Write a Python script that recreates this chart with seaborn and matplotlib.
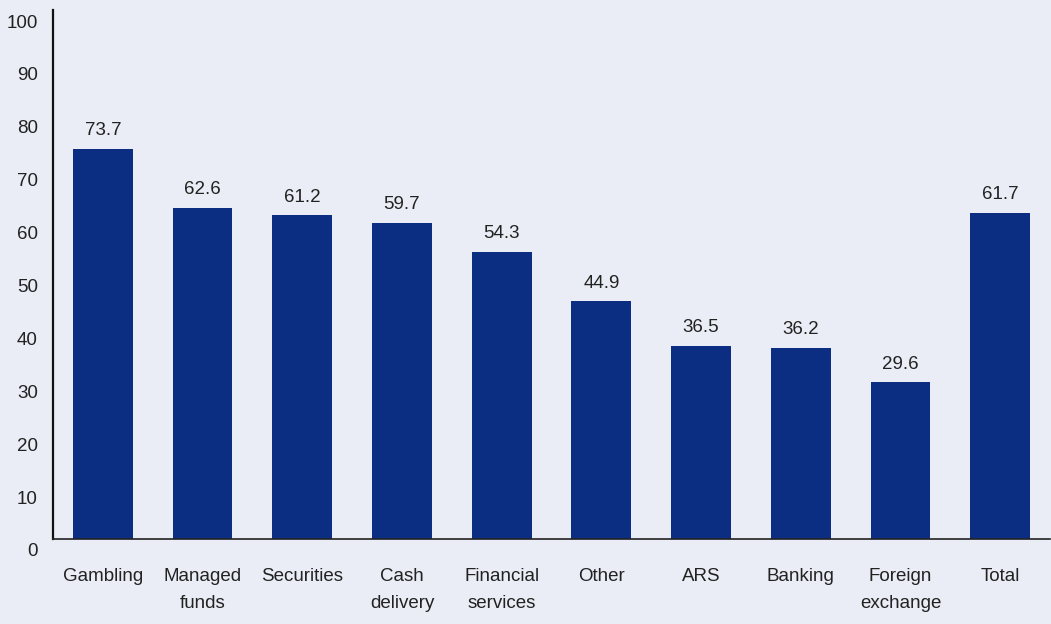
import matplotlib
matplotlib.use("Agg")
import matplotlib.pyplot as plt
import matplotlib.transforms as mtransforms
import seaborn as sns
import pandas as pd

categories = ["Gambling", "Managed\nfunds", "Securities", "Cash\ndelivery", "Financial\nservices",
              "Other", "ARS", "Banking", "Foreign\nexchange", "Total"]
values = [73.7, 62.6, 61.2, 59.7, 54.3, 44.9, 36.5, 36.2, 29.6, 61.7]
y_ticks = [0, 10, 20, 30, 40, 50, 60, 70, 80, 90, 100]

bg = "#eaedf5"
bar_color = "#0b2d82"
text_color = "#222222"

sns.set_theme(style="white")
plt.rcParams["font.family"] = ["Liberation Sans Narrow", "Liberation Sans", "DejaVu Sans"]

df = pd.DataFrame({"category": categories, "value": values})

fig = plt.figure(figsize=(10.51, 6.24), dpi=100, facecolor=bg)
ax = fig.add_axes([53 / 1051, (624 - 539) / 624, 997 / 1051, 529 / 624])
ax.set_facecolor(bg)

sns.barplot(data=df, x="category", y="value", color=bar_color, saturation=1,
            width=0.6, ax=ax, errorbar=None, linewidth=0, edgecolor=bar_color)

ax.set_xlim(-0.5, len(categories) - 0.5)
ax.set_ylim(0, 100)
ax.set_xlabel("")
ax.set_ylabel("")

for i, v in enumerate(values):
    ax.annotate(f"{v:.1f}", (i, v), xytext=(0, 7), textcoords="offset points",
                ha="center", va="bottom", fontsize=13.5, color=text_color)

ax.set_yticks(y_ticks)
ax.set_yticklabels([str(t) for t in y_ticks])
ax.tick_params(axis="y", length=0, pad=11, labelsize=13.5, labelcolor=text_color)
ax.tick_params(axis="x", length=0, pad=21, labelsize=13.5, labelcolor=text_color)
for lab in ax.get_xticklabels():
    lab.set_linespacing(1.75)
    lab.set_va("top")

# y labels sit slightly below their gridline positions
shift = mtransforms.ScaledTranslation(0, -11 / 100, fig.dpi_scale_trans)
for tick in ax.yaxis.get_major_ticks():
    tick.label1.set_transform(tick.label1.get_transform() + shift)

for side in ["top", "right"]:
    ax.spines[side].set_visible(False)
ax.spines["left"].set_color("#111111")
ax.spines["left"].set_linewidth(1.6)
ax.spines["bottom"].set_color("#222222")
ax.spines["bottom"].set_linewidth(1.2)

fig.savefig("out.png", dpi=100, facecolor=bg)
